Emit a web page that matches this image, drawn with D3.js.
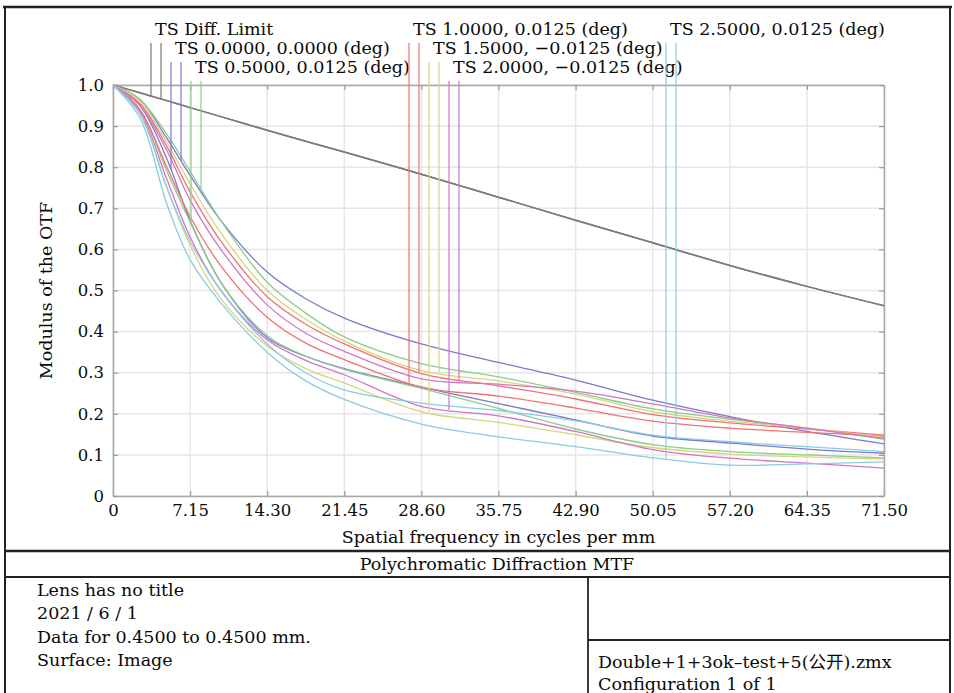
<!DOCTYPE html>
<html lang="en">
<head>
<meta charset="UTF-8">
<title>Polychromatic Diffraction MTF</title>
<style>
  body { margin: 0; background: #fff; }
  svg text { font-family: "DejaVu Serif", "Noto Sans CJK SC", serif; fill: #0a0a0a; }
</style>
</head>
<body>
<div id="chart"></div>
<script src="https://cdn.jsdelivr.net/npm/d3@7"></script>
<script>
// spatial frequency samples, cycles per mm
const freqs = [0, 2.5, 5, 7.15, 10, 14.3, 17.875, 21.45, 28.6, 35.75, 42.9, 50.05, 57.2, 64.35, 71.5];

const xTicks = [0, 7.15, 14.30, 21.45, 28.60, 35.75, 42.90, 50.05, 57.20, 64.35, 71.50];
const xTickLabels = ["0", "7.15", "14.30", "21.45", "28.60", "35.75", "42.90", "50.05", "57.20", "64.35", "71.50"];
const yTicks = [0, 0.1, 0.2, 0.3, 0.4, 0.5, 0.6, 0.7, 0.8, 0.9, 1.0];
const yTickLabels = ["0", "0.1", "0.2", "0.3", "0.4", "0.5", "0.6", "0.7", "0.8", "0.9", "1.0"];

// MTF values (T = lower of the pair, S = upper)
const diffLimit = [1, 0.981, 0.962, 0.945, 0.923, 0.89, 0.863, 0.837, 0.783, 0.727, 0.671, 0.616, 0.561, 0.51, 0.463];

const field0T = [1, 0.95, 0.82, 0.67, 0.52, 0.385, 0.34, 0.31, 0.265, 0.225, 0.185, 0.146, 0.129, 0.114, 0.104];
const field0S = [1, 0.965, 0.87, 0.78, 0.67, 0.545, 0.48, 0.433, 0.37, 0.325, 0.282, 0.233, 0.193, 0.157, 0.127];

const field1T = [1, 0.94, 0.79, 0.667, 0.52, 0.39, 0.34, 0.308, 0.262, 0.213, 0.163, 0.125, 0.108, 0.10, 0.093];
const field1S = [1, 0.965, 0.88, 0.79, 0.67, 0.52, 0.445, 0.387, 0.322, 0.29, 0.252, 0.212, 0.187, 0.165, 0.138];

const field2T = [1, 0.94, 0.80, 0.68, 0.56, 0.435, 0.372, 0.332, 0.265, 0.243, 0.214, 0.182, 0.165, 0.155, 0.145];
const field2S = [1, 0.955, 0.85, 0.74, 0.62, 0.485, 0.418, 0.37, 0.298, 0.268, 0.236, 0.198, 0.178, 0.163, 0.148];

const field3T = [1, 0.93, 0.75, 0.61, 0.48, 0.365, 0.31, 0.275, 0.205, 0.179, 0.149, 0.118, 0.102, 0.095, 0.09];
const field3S = [1, 0.96, 0.86, 0.76, 0.64, 0.5, 0.43, 0.377, 0.305, 0.28, 0.248, 0.205, 0.182, 0.165, 0.142];

const field4T = [1, 0.935, 0.77, 0.63, 0.50, 0.38, 0.33, 0.295, 0.218, 0.195, 0.157, 0.113, 0.092, 0.08, 0.068];
const field4S = [1, 0.95, 0.84, 0.72, 0.60, 0.465, 0.396, 0.352, 0.285, 0.272, 0.255, 0.224, 0.19, 0.165, 0.14];

const field5T = [1, 0.92, 0.71, 0.575, 0.47, 0.35, 0.28, 0.235, 0.175, 0.144, 0.12, 0.093, 0.075, 0.078, 0.083];
const field5S = [1, 0.93, 0.75, 0.62, 0.50, 0.37, 0.30, 0.258, 0.226, 0.208, 0.183, 0.148, 0.132, 0.12, 0.108];

const legendLabels = [
  "TS Diff. Limit",
  "TS 0.0000, 0.0000 (deg)",
  "TS 0.5000, 0.0125 (deg)",
  "TS 1.0000, 0.0125 (deg)",
  "TS 1.5000, \u22120.0125 (deg)",
  "TS 2.0000, \u22120.0125 (deg)",
  "TS 2.5000,  0.0125 (deg)"
];

const xLabel = "Spatial frequency in cycles per mm";
const yLabel = "Modulus of the OTF";
const title = "Polychromatic Diffraction MTF";
const infoLeft = ["Lens has no title", "2021 / 6  / 1", "Data for 0.4500 to 0.4500 mm.", "Surface: Image"];
const infoRight = ["Double+1+3ok\u2013test+5(公开).zmx", "Configuration 1 of 1"];

const series = [
  [diffLimit, diffLimit],
  [field0T, field0S],
  [field1T, field1S],
  [field2T, field2S],
  [field3T, field3S],
  [field4T, field4S],
  [field5T, field5S]
];
const colors = ["#847878", "#7c78cc", "#8ccc8c", "#f07272", "#d6d67e", "#cf76c8", "#8ccbe2"];

const W = 954, H = 693;
const svg = d3.select("#chart").append("svg")
    .attr("width", W).attr("height", H);

const x = d3.scaleLinear().domain([0, 71.5]).range([113, 884]);
const y = d3.scaleLinear().domain([0, 1]).range([496, 85]);

// grid
svg.append("g").selectAll("line").data(xTicks).join("line")
    .attr("x1", d => x(d)).attr("x2", d => x(d))
    .attr("y1", y(0)).attr("y2", y(1))
    .attr("stroke", "#e6e6e6").attr("stroke-width", 1.5);
svg.append("g").selectAll("line").data(yTicks).join("line")
    .attr("x1", x(0)).attr("x2", x(71.5))
    .attr("y1", d => y(d)).attr("y2", d => y(d))
    .attr("stroke", "#e6e6e6").attr("stroke-width", 1.5);

// axes, ticks pointing inward
function styleAxis(g) {
  g.select(".domain").attr("stroke", "#a8a8a8").attr("stroke-width", 1.5);
  g.selectAll(".tick line").attr("stroke", "#9a9a9a").attr("stroke-width", 1.2);
  g.selectAll(".tick text").attr("font-size", 16.5).attr("fill", "#0a0a0a");
}
svg.append("g").attr("transform", `translate(0,${y(0)})`)
    .call(d3.axisBottom(x).tickValues(xTicks).tickFormat((d, i) => xTickLabels[i])
      .tickSizeInner(-5).tickSizeOuter(0).tickPadding(8))
    .call(styleAxis);
svg.append("g").attr("transform", `translate(${x(0)},0)`)
    .call(d3.axisLeft(y).tickValues(yTicks).tickFormat((d, i) => yTickLabels[i])
      .tickSizeInner(-5).tickSizeOuter(0).tickPadding(9))
    .call(styleAxis);
svg.append("g").attr("transform", `translate(0,${y(1)})`)
    .call(d3.axisTop(x).tickValues(xTicks).tickFormat("").tickSizeInner(-5).tickSizeOuter(0))
    .call(styleAxis);
svg.append("g").attr("transform", `translate(${x(71.5)},0)`)
    .call(d3.axisRight(y).tickValues(yTicks).tickFormat("").tickSizeInner(-5).tickSizeOuter(0))
    .call(styleAxis);
svg.selectAll("g").attr("font-family", null);

// curves
const line = d3.line()
    .x((d, i) => x(freqs[i]))
    .y(d => y(d))
    .curve(d3.curveCatmullRom.alpha(0.5));

series.forEach((pair, k) => {
  pair.forEach(vals => {
    svg.append("path")
      .datum(vals)
      .attr("d", line)
      .attr("fill", "none")
      .attr("stroke", colors[k])
      .attr("stroke-width", k === 0 ? 1.5 : 1.3);
  });
});

// value of a series at frequency f (linear between samples)
function valueAt(vals, f) {
  const i = Math.min(d3.bisectRight(freqs, f), freqs.length - 1);
  const t = (f - freqs[i - 1]) / (freqs[i] - freqs[i - 1]);
  return vals[i - 1] + t * (vals[i] - vals[i - 1]);
}

// legend: three columns, labels staggered, call-out lines down to the curves
const colX = [155, 413, 670];
legendLabels.forEach((lab, k) => {
  const col = k < 3 ? 0 : (k < 6 ? 1 : 2);
  const row = k < 3 ? k : (k < 6 ? k - 3 : 0);
  const lx = colX[col] + row * 20;
  const base = 35 + row * 19;
  svg.append("text")
    .attr("x", lx).attr("y", base)
    .attr("font-size", 17.5)
    .text(lab);
  [lx - 4, lx + 6].forEach((px, j) => {
    svg.append("line")
      .attr("x1", px).attr("x2", px)
      .attr("y1", base + 8)
      .attr("y2", y(valueAt(series[k][j], x.invert(px))))
      .attr("stroke", colors[k]).attr("stroke-width", 1.2);
  });
});

// axis titles
svg.append("text")
    .attr("transform", `translate(52,${(y(0) + y(1)) / 2}) rotate(-90)`)
    .attr("text-anchor", "middle")
    .attr("font-size", 17.5)
    .text(yLabel);
svg.append("text")
    .attr("x", (x(0) + x(71.5)) / 2).attr("y", 543)
    .attr("text-anchor", "middle")
    .attr("font-size", 17.5)
    .text(xLabel);

// frame and info box
const frame = svg.append("g").attr("stroke", "#222").attr("fill", "none");
frame.append("line").attr("x1", 3).attr("x2", 952).attr("y1", 7).attr("y2", 7).attr("stroke-width", 2.5);
frame.append("line").attr("x1", 5).attr("x2", 5).attr("y1", 7).attr("y2", H).attr("stroke-width", 2);
frame.append("line").attr("x1", 950).attr("x2", 950).attr("y1", 7).attr("y2", H).attr("stroke-width", 2);
frame.append("line").attr("x1", 5).attr("x2", 950).attr("y1", 551).attr("y2", 551).attr("stroke-width", 2.5);
frame.append("line").attr("x1", 5).attr("x2", 950).attr("y1", 577).attr("y2", 577).attr("stroke-width", 1.8);
frame.append("line").attr("x1", 588).attr("x2", 588).attr("y1", 577).attr("y2", H).attr("stroke-width", 1.8);
frame.append("line").attr("x1", 588).attr("x2", 950).attr("y1", 640).attr("y2", 640).attr("stroke-width", 1.8);

svg.append("text")
    .attr("x", 497).attr("y", 570)
    .attr("text-anchor", "middle")
    .attr("font-size", 17.5)
    .text(title);

svg.append("g").selectAll("text").data(infoLeft).join("text")
    .attr("x", 37).attr("y", (d, i) => 596 + i * 23.4)
    .attr("font-size", 17.5)
    .text(d => d);
svg.append("g").selectAll("text").data(infoRight).join("text")
    .attr("x", 598).attr("y", (d, i) => 668 + i * 21.5)
    .attr("font-size", 17.5)
    .text(d => d);
</script>
</body>
</html>
